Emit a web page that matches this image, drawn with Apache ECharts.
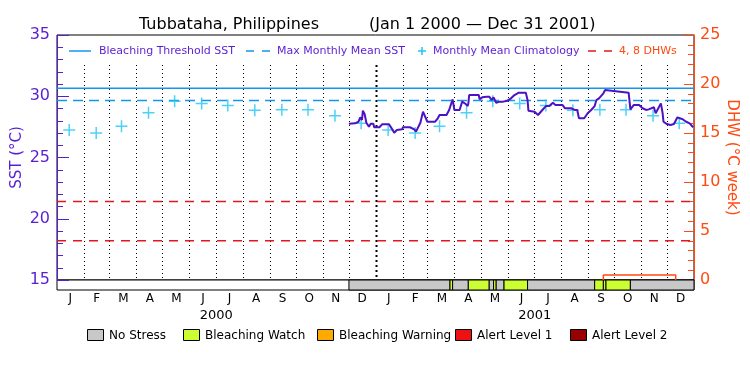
<!DOCTYPE html>
<html><head><meta charset="utf-8">
<script src="https://cdn.jsdelivr.net/npm/echarts@6/dist/echarts.min.js"></script>
<style>html,body{margin:0;padding:0;background:#fff}#c{width:750px;height:375px}</style>
</head><body><div id="c"></div>
<script>
// ---------- data ----------
const monthLabels = ['J','F','M','A','M','J','J','A','S','O','N','D'];
const yearLabels = ['2000','2001'];
const monthBoundaries = ['2000-02-01','2000-03-01','2000-04-01','2000-05-01','2000-06-01','2000-07-01','2000-08-01','2000-09-01','2000-10-01','2000-11-01','2000-12-01','2001-01-01','2001-02-01','2001-03-01','2001-04-01','2001-05-01','2001-06-01','2001-07-01','2001-08-01','2001-09-01','2001-10-01','2001-11-01','2001-12-01'];
const climatology = [27.25, 27.0, 27.55, 28.65, 29.6, 29.4, 29.25, 28.85, 28.9, 28.9, 28.4, 27.8];
const bleachingThreshold = 30.65;
const maxMonthlyMean = 29.65;
const dhwThresholds = [4, 8];
const sstDates = ['2000-12-01','2000-12-08','2000-12-09','2000-12-12','2000-12-14','2000-12-16','2000-12-17','2000-12-19','2000-12-21','2000-12-24','2000-12-26','2000-12-29','2000-12-30','2001-01-05','2001-01-08','2001-01-16','2001-01-19','2001-01-22','2001-01-25','2001-01-31','2001-02-01','2001-02-09','2001-02-11','2001-02-14','2001-02-16','2001-02-21','2001-02-24','2001-02-26','2001-03-01','2001-03-10','2001-03-13','2001-03-15','2001-03-23','2001-03-26','2001-03-30','2001-04-01','2001-04-07','2001-04-10','2001-04-14','2001-04-16','2001-04-17','2001-04-18','2001-04-29','2001-04-30','2001-05-03','2001-05-08','2001-05-11','2001-05-14','2001-05-16','2001-05-19','2001-05-23','2001-05-27','2001-06-01','2001-06-05','2001-06-09','2001-06-14','2001-06-22','2001-06-24','2001-06-25','2001-07-02','2001-07-06','2001-07-11','2001-07-15','2001-07-19','2001-07-23','2001-07-26','2001-08-03','2001-08-06','2001-08-13','2001-08-17','2001-08-20','2001-08-22','2001-08-28','2001-09-01','2001-09-05','2001-09-09','2001-09-11','2001-09-14','2001-09-19','2001-09-21','2001-09-23','2001-10-18','2001-10-20','2001-10-24','2001-10-30','2001-11-03','2001-11-07','2001-11-10','2001-11-16','2001-11-18','2001-11-24','2001-11-26','2001-11-27','2001-12-01','2001-12-05','2001-12-09','2001-12-13','2001-12-19','2001-12-23','2001-12-27','2001-12-31'];
const sstValues = [27.76,27.79,27.92,27.92,28.28,28.06,28.82,28.55,27.84,27.51,27.76,27.76,27.47,27.47,27.71,27.71,27.38,27.02,27.24,27.30,27.47,27.47,27.51,27.30,27.11,27.84,28.74,28.74,27.92,27.92,28.20,28.47,28.47,28.88,29.75,28.88,28.88,29.56,29.37,29.20,29.37,30.10,30.10,29.75,29.91,29.96,29.96,29.69,29.91,29.47,29.56,29.56,29.64,29.83,30.10,30.29,30.29,29.69,28.82,28.74,28.47,28.88,29.20,29.20,29.47,29.29,29.29,29.02,29.02,28.88,28.88,28.20,28.20,28.61,28.88,29.20,29.69,29.83,30.24,30.51,30.37,30.29,28.93,29.29,29.29,29.02,28.88,28.93,29.10,28.61,29.42,28.61,27.92,27.73,27.65,27.73,28.28,28.12,27.92,27.79,27.47];
const dhwDates = ['2001-09-19','2001-09-19','2001-12-11','2001-12-11'];
const dhwValues = [0, 0.5, 0.5, 0];
const stressStart = ['2000-12-01','2001-03-27','2001-03-30','2001-04-17','2001-05-11','2001-05-16','2001-05-19','2001-05-28','2001-06-24','2001-09-09','2001-09-19','2001-09-22','2001-10-20'];
const stressEnd   = ['2001-03-27','2001-03-30','2001-04-17','2001-05-11','2001-05-16','2001-05-19','2001-05-28','2001-06-24','2001-09-09','2001-09-19','2001-09-22','2001-10-20','2002-01-01'];
const stressLevel = [0,1,0,1,0,1,0,1,0,1,1,1,0];
const stressNames = ['No Stress','Bleaching Watch','Bleaching Warning','Alert Level 1','Alert Level 2'];

// ---------- styles ----------
const FONT = '"DejaVu Sans"';
const purple = '#5a1ed2';
const sstColor = '#4c12c4';
const orange = '#ff4a12';
const blue = '#1496f0';
const cyan = '#22c6f6';
const red = '#e41818';
const stressColors = ['#c8c8c8','#ccff33','#ffaa00','#ee1111','#990000'];
const xMin = '2000-01-01', xMax = '2002-01-01';
const dotTop = 32.55;

const chart = echarts.init(document.getElementById('c'), null, {renderer:'canvas'});

const climData = [];
yearLabels.forEach(y => climatology.forEach((v, i) => {
  climData.push([y + '-' + String(i + 1).padStart(2, '0') + '-15', v]);
}));

const plusPath = 'path://M5.25,0h1.5v5.25h5.25v1.5h-5.25v5.25h-1.5v-5.25h-5.25v-1.5h5.25z';

// legends (graphic decorations)
const g = [];
function txt(x, y, s, color, size) {
  g.push({type:'text', x:x, y:y, silent:true, style:{text:s, fill:color, font:size + 'px ' + FONT, align:'left', verticalAlign:'middle'}});
}
function ln(x1, y1, x2, y2, color, w, dash) {
  g.push({type:'line', silent:true, shape:{x1:x1,y1:y1,x2:x2,y2:y2}, style:{stroke:color, lineWidth:w, lineDash:dash || null}});
}
const ly = 51;
ln(69, ly, 91, ly, blue, 1.5);
txt(99, ly, 'Bleaching Threshold SST', purple, 11);
ln(246, ly, 271, ly, blue, 1.5, [8, 8]);
txt(277, ly, 'Max Monthly Mean SST', purple, 11);
ln(418, ly, 426, ly, cyan, 1.5); ln(422, ly - 4, 422, ly + 4, cyan, 1.5);
txt(433, ly, 'Monthly Mean Climatology', purple, 11);
ln(588, ly, 613, ly, red, 1.5, [8, 8]);
txt(619, ly, '4, 8 DHWs', orange, 11);

const boxX = [87, 183, 317, 455, 570];
stressNames.forEach((n, i) => {
  g.push({type:'rect', silent:true, shape:{x:boxX[i] + 0.5, y:329.5, width:16, height:11}, style:{fill:stressColors[i], stroke:'#000', lineWidth:1}});
  txt(boxX[i] + 22, 336, n, '#000', 12);
});

const option = {
  animation: false,
  backgroundColor: '#fff',
  textStyle: {fontFamily: 'DejaVu Sans'},
  title: [
    {text:'Tubbataha, Philippines', left:134, top:12, textStyle:{fontSize:16, fontWeight:'normal', color:'#000', fontFamily:'DejaVu Sans'}},
    {text:'(Jan 1 2000 \u2014 Dec 31 2001)', left:364, top:12, textStyle:{fontSize:16, fontWeight:'normal', color:'#000', fontFamily:'DejaVu Sans'}}
  ],
  grid: [
    {left:57, right:56, top:35, height:245, show:true, borderColor:'#000', borderWidth:1, backgroundColor:'transparent', containLabel:false, outerBoundsMode:'none'},
    {left:57, right:56, top:280, height:10, show:true, borderColor:'#000', borderWidth:1, backgroundColor:'#fff', containLabel:false, outerBoundsMode:'none'}
  ],
  xAxis: [
    {type:'time', gridIndex:0, min:xMin, max:xMax, show:false},
    {type:'time', gridIndex:1, min:xMin, max:xMax, show:false, position:'bottom'},
    {type:'category', gridIndex:1, position:'bottom', data:monthLabels.concat(monthLabels),
     axisLine:{show:false}, axisTick:{show:false}, splitLine:{show:false},
     axisLabel:{interval:0, fontSize:12, color:'#000', margin:3}},
    {type:'category', gridIndex:1, position:'bottom', offset:16, data:yearLabels,
     axisLine:{show:false}, axisTick:{show:false}, splitLine:{show:false},
     axisLabel:{interval:0, fontSize:13, color:'#000', margin:3}}
  ],
  yAxis: [
    {type:'value', gridIndex:0, position:'left', min:15, max:35, interval:5,
     axisLine:{show:true, lineStyle:{color:purple, width:1}},
     axisTick:{show:true, inside:true, length:12, lineStyle:{color:purple}},
     minorTick:{show:true, splitNumber:5, length:6, lineStyle:{color:purple}},
     axisLabel:{color:purple, fontSize:16, margin:7},
     splitLine:{show:false},
     name:'SST (\u00b0C)', nameLocation:'middle', nameRotate:90, nameGap:32, nameMoveOverlap:false,
     nameTextStyle:{color:purple, fontSize:15}},
    {type:'value', gridIndex:0, position:'right', min:0, max:25, interval:5,
     axisLine:{show:true, lineStyle:{color:orange, width:1}},
     axisTick:{show:true, inside:true, length:10, lineStyle:{color:orange}},
     minorTick:{show:true, splitNumber:5, length:6, lineStyle:{color:orange}},
     axisLabel:{color:orange, fontSize:16, margin:6},
     splitLine:{show:false},
     name:'DHW (\u00b0C week)', nameLocation:'middle', nameRotate:-90, nameGap:30, nameMoveOverlap:false,
     nameTextStyle:{color:orange, fontSize:15}},
    {type:'value', gridIndex:1, min:0, max:1, show:false}
  ],
  series: [
    {type:'custom', name:'month lines', xAxisIndex:0, yAxisIndex:0, silent:true, z:1,
     data: monthBoundaries.map(d => [d, 15]),
     renderItem: function (params, api) {
       const x = api.value(0);
       const p1 = api.coord([x, dotTop]);
       const p2 = api.coord([x, 15]);
       const isYear = monthBoundaries[params.dataIndex] === '2001-01-01';
       return {type:'line', shape:{x1:Math.round(p1[0]) + 0.5, y1:p1[1], x2:Math.round(p2[0]) + 0.5, y2:p2[1]},
               style:{stroke:'#000', lineWidth:isYear ? 2 : 1, lineDash:isYear ? [2, 3] : [1, 3]}};
     }},
    {type:'line', name:'Bleaching Threshold SST', xAxisIndex:0, yAxisIndex:0, symbol:'none', silent:true, z:3,
     data:[[xMin, bleachingThreshold], [xMax, bleachingThreshold]],
     lineStyle:{color:blue, width:1.5}},
    {type:'line', name:'Max Monthly Mean SST', xAxisIndex:0, yAxisIndex:0, symbol:'none', silent:true, z:3,
     data:[[xMin, maxMonthlyMean], [xMax, maxMonthlyMean]],
     lineStyle:{color:blue, width:1.5, type:[10, 6]}},
    ...dhwThresholds.map(v => ({type:'line', name:'4, 8 DHWs', xAxisIndex:0, yAxisIndex:1, symbol:'none', silent:true, z:3,
     data:[[xMin, v], [xMax, v]], lineStyle:{color:red, width:1.5, type:[9, 7]}})),
    {type:'scatter', name:'Monthly Mean Climatology', xAxisIndex:0, yAxisIndex:0, silent:true, z:4,
     symbol:plusPath, symbolSize:12, itemStyle:{color:cyan}, data:climData},
    {type:'line', name:'SST', xAxisIndex:0, yAxisIndex:0, symbol:'none', silent:true, z:5,
     data: sstDates.map((d, i) => [d, sstValues[i]]),
     lineStyle:{color:sstColor, width:2}},
    {type:'line', name:'DHW', xAxisIndex:0, yAxisIndex:1, symbol:'none', silent:true, z:5,
     data: dhwDates.map((d, i) => [d, dhwValues[i]]),
     lineStyle:{color:orange, width:1.5}},
    {type:'custom', name:'stress', xAxisIndex:1, yAxisIndex:2, silent:true, z:2,
     data: stressStart.map((d, i) => [d, stressEnd[i], stressLevel[i]]),
     encode:{x:[0, 1]},
     dimensions:[{name:'s', type:'time'}, {name:'e', type:'time'}, {name:'lvl', type:'number'}],
     renderItem: function (params, api) {
       const a = api.coord([api.value(0), 0]);
       const b = api.coord([api.value(1), 1]);
       return {type:'rect', shape:{x:a[0], y:b[1], width:b[0] - a[0], height:a[1] - b[1]},
               style:{fill:stressColors[api.value(2)], stroke:'#000', lineWidth:1}};
     }}
  ],
  graphic: g
};
chart.setOption(option);
</script>
</body></html>
